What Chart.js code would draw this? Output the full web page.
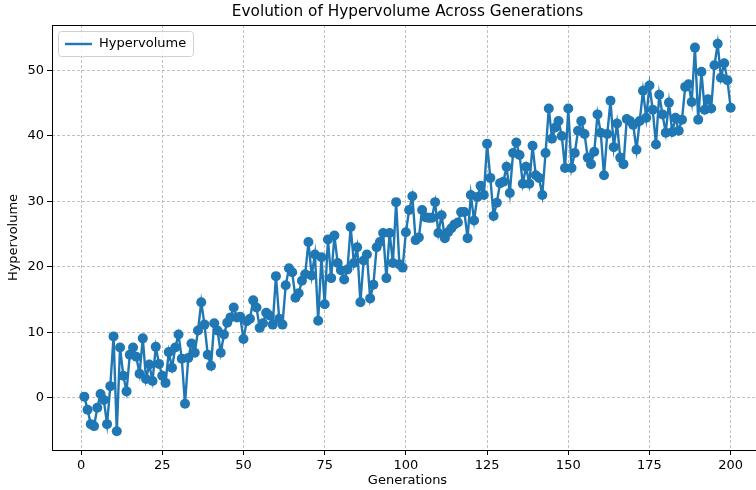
<!DOCTYPE html>
<html>
<head>
<meta charset="utf-8">
<script src="https://cdn.jsdelivr.net/npm/chart.js@4.4.1/dist/chart.umd.min.js"></script>
<style>
html,body{margin:0;padding:0;background:#fff;overflow:hidden;}
#wrap{width:770px;height:490px;}
</style>
</head>
<body>
<div id="wrap"><canvas id="c" width="770" height="490"></canvas></div>
<script>
const titleText = "Evolution of Hypervolume Across Generations";
const xLabel = "Generations";
const yLabel = "Hypervolume";
const seriesName = "Hypervolume";
const xTicks = [0, 25, 50, 75, 100, 125, 150, 175, 200];
const yTicks = [0, 10, 20, 30, 40, 50];
const hypervolume = [
 0.2,-1.8,-4.0,-4.3,-1.5,0.6,-0.3,-4.0,1.8,9.4,
 -5.1,7.7,3.4,1.0,6.6,7.7,6.3,3.7,9.1,2.9,
 5.1,2.6,7.8,5.2,3.4,2.3,7.0,4.6,7.7,9.7,
 6.0,-0.9,6.1,8.3,6.9,10.3,14.6,11.2,6.6,4.9,
 11.4,10.3,6.9,9.7,11.5,12.3,13.8,12.3,12.4,9.0,
 11.7,12.1,14.9,13.8,10.7,11.4,13.0,12.6,11.2,18.6,
 12.1,11.2,17.2,19.8,19.2,15.3,16.0,17.9,18.9,23.8,
 18.7,21.9,11.8,21.5,14.3,24.2,18.3,24.8,20.6,19.5,
 18.1,19.6,26.1,20.6,23.0,14.6,21.0,21.9,15.2,17.3,
 23.0,23.8,25.2,18.3,25.2,20.6,29.9,20.4,19.9,25.3,
 28.7,30.8,24.1,24.5,28.7,27.6,27.5,27.5,29.9,25.2,
 27.9,24.4,25.3,25.9,26.5,26.8,28.4,28.4,24.4,31.0,
 27.1,30.7,32.4,31.0,38.8,33.6,27.8,29.8,32.8,33.0,
 35.3,31.3,37.4,39.0,37.1,32.7,35.3,32.7,38.5,34.0,
 33.6,31.0,37.4,44.2,39.6,41.3,42.3,40.0,35.1,44.2,
 35.1,37.4,40.8,42.3,40.3,36.7,35.7,37.6,43.3,40.5,
 34.0,40.3,45.4,38.3,41.9,36.7,35.7,42.6,42.3,41.7,
 37.9,42.3,46.9,42.8,47.7,44.0,38.7,46.3,43.3,40.5,
 45.1,40.6,42.8,40.8,42.5,47.5,47.9,45.2,53.5,42.5,
 49.8,44.0,45.6,44.2,50.8,54.1,48.9,51.1,48.5,44.3
];
const generations = hypervolume.map((_, i) => i + 1);

const BLUE = '#1f77b4';
const FONT = "'DejaVu Sans', sans-serif";
const TICK_SIZE = 13;

const decor = {
  id: 'decor',
  afterDraw(chart) {
    const ctx = chart.ctx, a = chart.chartArea;
    ctx.save();
    ctx.strokeStyle = '#000';
    ctx.lineWidth = 1;
    ctx.strokeRect(Math.round(a.left) + 0.5, Math.round(a.top) + 0.5, Math.round(a.right - a.left), Math.round(a.bottom - a.top));
    ctx.fillStyle = '#000';
    ctx.textAlign = 'center';
    ctx.textBaseline = 'middle';
    ctx.font = "15.3px " + FONT;
    ctx.fillText(titleText, (a.left + a.right) / 2, 12);
    ctx.font = TICK_SIZE + "px " + FONT;
    ctx.fillText(xLabel, (a.left + a.right) / 2, 481);
    ctx.save();
    ctx.translate(14, (a.top + a.bottom) / 2);
    ctx.rotate(-Math.PI / 2);
    ctx.fillText(yLabel, 0, 0);
    ctx.restore();
    const lx = a.left + 6, ly = a.top + 6, lw = 135, lh = 25;
    ctx.beginPath();
    ctx.roundRect(lx + 0.5, ly + 0.5, lw, lh, 3);
    ctx.fillStyle = 'rgba(255,255,255,0.8)';
    ctx.fill();
    ctx.strokeStyle = '#d0d0d0';
    ctx.lineWidth = 1;
    ctx.stroke();
    ctx.beginPath();
    ctx.moveTo(lx + 7, ly + 13);
    ctx.lineTo(lx + 34, ly + 13);
    ctx.strokeStyle = BLUE;
    ctx.lineWidth = 2.4;
    ctx.stroke();
    ctx.fillStyle = '#000';
    ctx.textAlign = 'left';
    ctx.font = TICK_SIZE + "px " + FONT;
    ctx.fillText(seriesName, lx + 41, ly + 13);
    ctx.restore();
  }
};

new Chart(document.getElementById('c'), {
  type: 'line',
  data: {
    datasets: [{
      label: seriesName,
      data: generations.map((g, i) => ({x: g, y: hypervolume[i]})),
      borderColor: BLUE,
      backgroundColor: BLUE,
      borderWidth: 2.4,
      pointRadius: 5,
      pointHoverRadius: 5,
      pointBorderWidth: 0,
      pointBackgroundColor: BLUE,
      tension: 0,
      fill: false
    }]
  },
  options: {
    responsive: false,
    animation: false,
    devicePixelRatio: 1,
    layout: {padding: {left: 0, right: 7, top: 25, bottom: 0}},
    plugins: {legend: {display: false}, title: {display: false}, tooltip: {enabled: false}},
    scales: {
      x: {
        type: 'linear',
        min: -8.95, max: 209.95,
        afterBuildTicks: s => { s.ticks = xTicks.map(v => ({value: v})); },
        afterFit: s => { s.height = 40; },
        grid: {color: '#b0b0b0', lineWidth: 0.8, drawTicks: true, tickLength: 5, tickColor: '#000', tickWidth: 1, tickBorderDash: []},
        border: {display: false, dash: [3, 2]},
        ticks: {color: '#000', font: {family: FONT, size: TICK_SIZE}, padding: 3, maxRotation: 0, autoSkip: false}
      },
      y: {
        type: 'linear',
        min: -7.95, max: 56.95,
        afterBuildTicks: s => { s.ticks = yTicks.map(v => ({value: v})); },
        afterFit: s => { s.width = 52; },
        grid: {color: '#b0b0b0', lineWidth: 0.8, drawTicks: true, tickLength: 5, tickColor: '#000', tickWidth: 1, tickBorderDash: []},
        border: {display: false, dash: [3, 2]},
        ticks: {color: '#000', font: {family: FONT, size: TICK_SIZE}, padding: 3, autoSkip: false}
      }
    }
  },
  plugins: [decor]
});
</script>
</body>
</html>
